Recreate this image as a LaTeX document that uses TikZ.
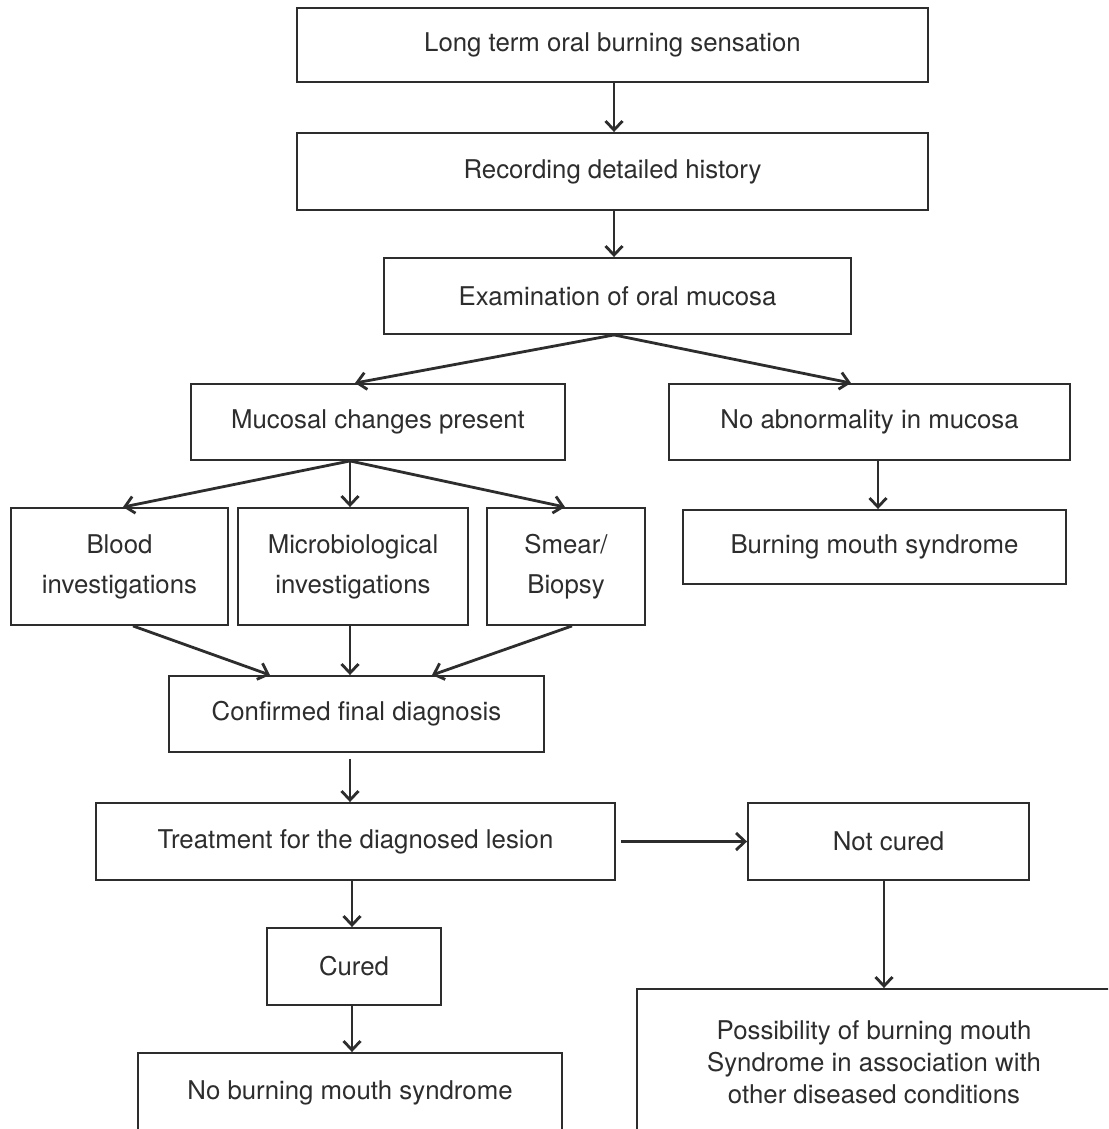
\documentclass[tikz,border=0pt]{standalone}
\usepackage{fontspec}
\setmainfont{TeX Gyre Heros}
\usetikzlibrary{arrows.meta}
\definecolor{linec}{RGB}{45,45,45}
\definecolor{textc}{RGB}{45,45,45}
\begin{document}
\begin{tikzpicture}[x=0.5pt,y=-0.5pt,
  box/.style={draw=linec, line width=0.95pt, inner sep=0pt, align=center,
    font=\fontsize{12.9pt}{20pt}\selectfont, text=textc},
  arr/.style={draw=linec, line width=1.4pt,
    -{Straight Barb[length=4.5pt,width=8.5pt,line width=1.4pt]}}]
\useasboundingbox (0,0) rectangle (1108,1129);
\clip (0,0) rectangle (1108,1129);
\fill[white] (0,0) rectangle (1108,1129);

\node[box, minimum width=315.5pt, minimum height=37pt] (b1) at (612.5,45) {Long term oral burning sensation};
\node[box, minimum width=315.5pt, minimum height=38.5pt] (b2) at (612.5,171.5) {Recording detailed history};
\node[box, minimum width=233.5pt, minimum height=38pt] (b3) at (617.5,296) {Examination of oral mucosa};
\node[box, minimum width=187pt, minimum height=38pt] (b4) at (378,422) {Mucosal changes present};
\node[box, minimum width=200.5pt, minimum height=38pt] (b5) at (869.5,422) {No abnormality in mucosa};
\node[box, minimum width=191.5pt, minimum height=37pt] (b6) at (874.5,547) {Burning mouth syndrome};
\node[box, minimum width=108.5pt, minimum height=58.5pt] (blood) at (119.5,566.5) {Blood\\investigations};
\node[box, minimum width=115pt, minimum height=58.5pt] (micro) at (353,566.5) {Microbiological\\investigations};
\node[box, minimum width=79pt, minimum height=58.5pt] (smear) at (566,566.5) {Smear/\\Biopsy};
\node[box, minimum width=187.5pt, minimum height=38pt] (conf) at (356.5,714) {Confirmed final diagnosis};
\node[box, minimum width=259.5pt, minimum height=38.5pt] (treat) at (355.5,841.5) {Treatment for the diagnosed lesion};
\node[box, minimum width=140.5pt, minimum height=38.5pt] (notc) at (888.5,841.5) {Not cured};
\node[box, minimum width=87pt, minimum height=38.5pt] (cured) at (354,966.5) {Cured};
\node[box, minimum width=212pt, minimum height=40pt] (nobms) at (350,1093) {No burning mouth syndrome};
\node[box, minimum width=237pt, minimum height=73pt, font=\fontsize{12.9pt}{16pt}\selectfont] (poss) at (874,1062)
  {Possibility of burning mouth\\Syndrome in association with\\other diseased conditions};

\draw[arr] ([xshift=0.75pt]b1.south) -- ([xshift=0.75pt]b1.south |- b2.north);
\draw[arr] ([xshift=0.75pt]b2.south) -- ([xshift=0.75pt]b2.south |- b3.north);
\draw[arr] ([xshift=-1.75pt]b3.south) -- ([xshift=-11.5pt]b4.north);
\draw[arr] ([xshift=-1.75pt]b3.south) -- ([xshift=-9.25pt]b5.north);
\draw[arr] ([xshift=4.25pt]b5.south) -- ([xshift=4.25pt]b5.south |- b6.north);

\draw[arr] ([xshift=-14pt]b4.south) -- ([xshift=1.75pt]blood.north);
\draw[arr] ([xshift=-14pt]b4.south) -- ([xshift=-1.5pt]micro.north);
\draw[arr] ([xshift=-14pt]b4.south) -- ([xshift=-0.5pt]smear.north);

\draw[arr] ([xshift=6.75pt]blood.south) -- ([xshift=-43.25pt]conf.north);
\draw[arr] ([xshift=-1.5pt]micro.south) -- ([xshift=-1.5pt]micro.south |- conf.north);
\draw[arr] ([xshift=3pt]smear.south) -- ([xshift=37.75pt]conf.north);

\draw[arr, shorten <=3pt] ([xshift=-3.25pt]conf.south) -- ([xshift=-3.25pt]conf.south |- treat.north);
\draw[arr, shorten <=2.5pt] (treat.east) -- (notc.west);
\draw[arr] ([xshift=-1pt]cured.north |- treat.south) -- ([xshift=-1pt]cured.north);
\draw[arr] ([xshift=-1pt]cured.south) -- ([xshift=-1pt]cured.south |- nobms.north);
\draw[arr] ([xshift=-2.25pt]notc.south) -- ([xshift=-2.25pt]notc.south |- poss.north);
\end{tikzpicture}
\end{document}
